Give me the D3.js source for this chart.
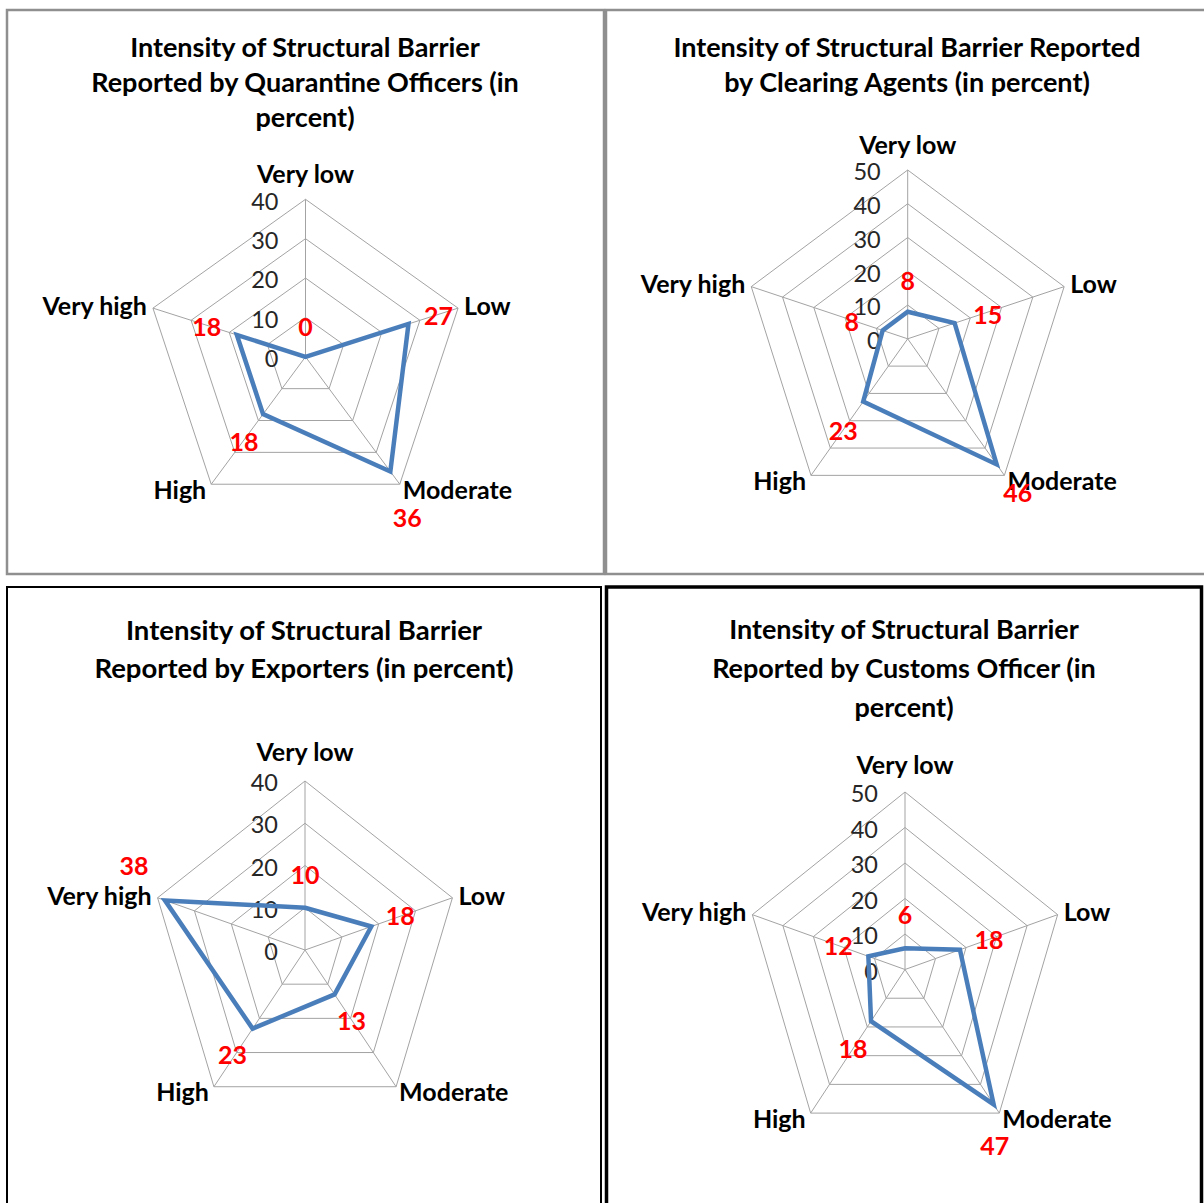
<!DOCTYPE html>
<html>
<head>
<meta charset="utf-8">
<script src="https://cdn.jsdelivr.net/npm/d3@7"></script>
<style>
  html, body { margin: 0; padding: 0; background: #ffffff; }
  svg { display: block; }
  text { font-family: Lato, "Open Sans", sans-serif; }
</style>
</head>
<body>
<svg id="chart" width="1204" height="1203"></svg>
<script>
// Axis categories shared by all four radar charts
const categories = ["Very low", "Low", "Moderate", "High", "Very high"];

// Reported intensity (percent) per respondent group
const quarantineValues = [0, 27, 36, 18, 18];
const clearingValues   = [8, 15, 46, 23, 8];
const exporterValues   = [10, 18, 13, 23, 38];
const customsValues    = [6, 18, 47, 18, 12];

// Radial axis tick labels
const ticks40 = [0, 10, 20, 30, 40];
const ticks50 = [0, 10, 20, 30, 40, 50];

// Chart titles, one line per entry
const quarantineTitle = ["Intensity of Structural Barrier", "Reported by Quarantine Officers (in", "percent)"];
const clearingTitle   = ["Intensity of Structural Barrier Reported", "by Clearing Agents (in percent)"];
const exporterTitle   = ["Intensity of Structural Barrier", "Reported by Exporters (in percent)"];
const customsTitle    = ["Intensity of Structural Barrier", "Reported by Customs Officer (in", "percent)"];

// Layout of each chart frame (geometry and label nudges only)
const panels = [
  { values: quarantineValues, ticks: ticks40, title: quarantineTitle,
    frame: { x: 7, y: 10, w: 597, h: 564, stroke: "#8f8f8f", sw: 2.5 },
    cx: 305.5, cy: 356.8, rx: 160.4, ry: 157.5, titleSize: 27,
    titleX: 305, titleY: [48, 83, 118], catTopDy: -25,
    labelOffsets: [[0, -30], [30, -8], [17, 47], [-19, 28], [-30, -8]] },
  { values: clearingValues, ticks: ticks50, title: clearingTitle,
    frame: { x: 606, y: 10, w: 620, h: 564, stroke: "#8f8f8f", sw: 2.5 },
    cx: 907.7, cy: 338.8, rx: 164.5, ry: 168.8, titleSize: 27,
    titleX: 907, titleY: [48, 83], catTopDy: -25,
    labelOffsets: [[0, -31], [33, -8], [21, 29], [-20, 30], [-31, -8]] },
  { values: exporterValues, ticks: ticks40, title: exporterTitle,
    frame: { x: 7, y: 587, w: 594, h: 640, stroke: "#000000", sw: 2 },
    cx: 305, cy: 950, rx: 155, ry: 169, titleSize: 27.5,
    titleX: 304, titleY: [630, 668], catTopDy: -29,
    labelOffsets: [[0, -33], [29, -10], [17, 27], [-20, 27], [-31, -34]] },
  { values: customsValues, ticks: ticks50, title: customsTitle,
    frame: { x: 606.5, y: 587, w: 595, h: 640, stroke: "#000000", sw: 3.5 },
    cx: 905, cy: 969.5, rx: 160.5, ry: 177.5, titleSize: 27,
    titleX: 904, titleY: [630, 669, 708], catTopDy: -27,
    labelOffsets: [[0, -33], [29, -10], [1, 42], [-18, 28], [-30, -10]] }
];

const svg = d3.select("#chart");
const n = categories.length;
const angle = i => -Math.PI / 2 + i * 2 * Math.PI / n;

// Category label placement around the outer ring
const catPlacement = [
  { anchor: "middle", dx: 0,  dy: null },
  { anchor: "start",  dx: 6,  dy: -2 },
  { anchor: "start",  dx: 3,  dy: 6 },
  { anchor: "end",    dx: -5, dy: 6 },
  { anchor: "end",    dx: -6, dy: -2 }
];

panels.forEach(p => {
  const g = svg.append("g");
  const maxV = d3.max(p.ticks);
  const r = d3.scaleLinear().domain([0, maxV]).range([0, 1]);
  const px = (v, i) => p.cx + p.rx * r(v) * Math.cos(angle(i));
  const py = (v, i) => p.cy + p.ry * r(v) * Math.sin(angle(i));

  // frame
  g.append("rect")
    .attr("x", p.frame.x).attr("y", p.frame.y)
    .attr("width", p.frame.w).attr("height", p.frame.h)
    .attr("fill", "none").attr("stroke", p.frame.stroke)
    .attr("stroke-width", p.frame.sw);

  // title
  g.append("g").selectAll("text").data(p.title).join("text")
    .attr("x", p.titleX).attr("y", (d, i) => p.titleY[i])
    .attr("dy", "0.35em")
    .attr("text-anchor", "middle")
    .attr("font-size", p.titleSize).attr("font-weight", 700).attr("fill", "#000")
    .text(d => d);

  // grid rings
  const ring = d3.line().curve(d3.curveLinearClosed);
  g.append("g").selectAll("path").data(p.ticks.filter(t => t > 0)).join("path")
    .attr("d", t => ring(categories.map((c, i) => [px(t, i), py(t, i)])))
    .attr("fill", "none").attr("stroke", "#a3a3a3").attr("stroke-width", 1);

  // spokes
  g.append("g").selectAll("line").data(categories).join("line")
    .attr("x1", p.cx).attr("y1", p.cy)
    .attr("x2", (c, i) => px(maxV, i)).attr("y2", (c, i) => py(maxV, i))
    .attr("stroke", "#a3a3a3").attr("stroke-width", 1);

  // tick labels along the top spoke
  g.append("g").selectAll("text").data(p.ticks).join("text")
    .attr("x", p.cx - 27).attr("y", t => py(t, 0) + 2)
    .attr("dy", "0.35em").attr("text-anchor", "end")
    .attr("font-size", 23.5).attr("fill", "#262626")
    .text(t => t);

  // category labels
  g.append("g").selectAll("text").data(categories).join("text")
    .attr("x", (c, i) => px(maxV, i) + catPlacement[i].dx)
    .attr("y", (c, i) => py(maxV, i) + (i === 0 ? p.catTopDy : catPlacement[i].dy))
    .attr("dy", "0.35em")
    .attr("text-anchor", (c, i) => catPlacement[i].anchor)
    .attr("font-size", 25).attr("font-weight", 700).attr("fill", "#000")
    .text(c => c);

  // data series
  g.append("path")
    .attr("d", ring(p.values.map((v, i) => [px(v, i), py(v, i)])))
    .attr("fill", "none").attr("stroke", "#4a7ebb")
    .attr("stroke-width", 4.5).attr("stroke-linejoin", "miter");

  // value labels
  g.append("g").selectAll("text").data(p.values).join("text")
    .attr("x", (v, i) => px(v, i) + p.labelOffsets[i][0])
    .attr("y", (v, i) => py(v, i) + p.labelOffsets[i][1])
    .attr("dy", "0.35em").attr("text-anchor", "middle")
    .attr("font-size", 25).attr("font-weight", 700).attr("fill", "#ff0000")
    .text(v => v);
});
</script>
</body>
</html>
